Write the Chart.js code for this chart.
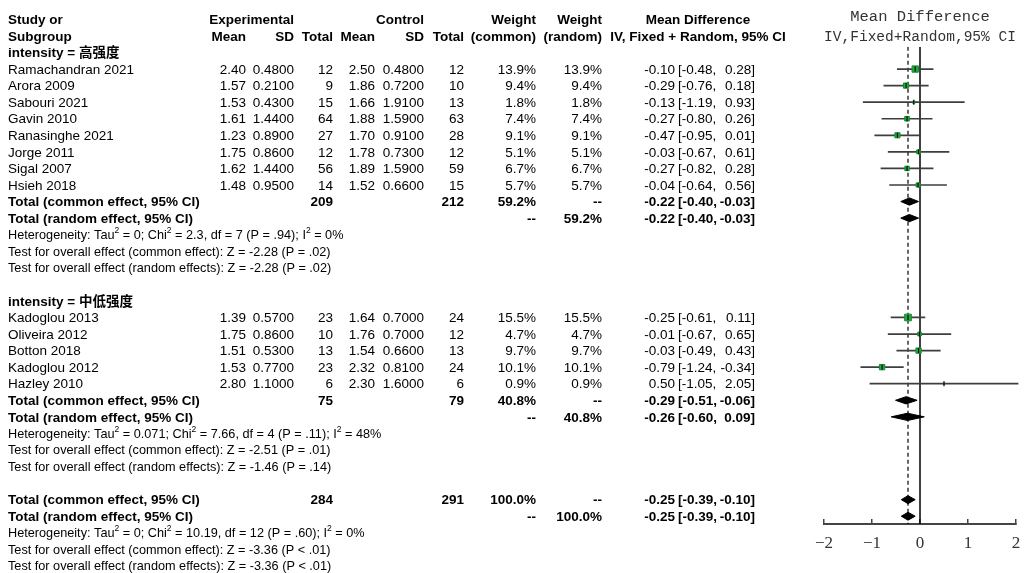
<!DOCTYPE html>
<html>
<head>
<meta charset="utf-8">
<script src="https://cdn.jsdelivr.net/npm/chart.js@4.4.1/dist/chart.umd.min.js"></script>
<style>
  html, body { margin: 0; padding: 0; background: #fff; }
  #wrap { width: 1025px; height: 573px; }
</style>
</head>
<body>
<div id="wrap"><canvas id="forest" width="1025" height="573"></canvas></div>
<script>
// ---- study level data ----
const studyNames = ['Ramachandran 2021', 'Arora 2009', 'Sabouri 2021', 'Gavin 2010', 'Ranasinghe 2021',
  'Jorge 2011', 'Sigal 2007', 'Hsieh 2018',
  'Kadoglou 2013', 'Oliveira 2012', 'Botton 2018', 'Kadoglou 2012', 'Hazley 2010'];
const studyRows = [0, 1, 2, 3, 4, 5, 6, 7, 15, 16, 17, 18, 19];
const expMean = [2.40, 1.57, 1.53, 1.61, 1.23, 1.75, 1.62, 1.48, 1.39, 1.75, 1.51, 1.53, 2.80];
const expSD = [0.48, 0.21, 0.43, 1.44, 0.89, 0.86, 1.44, 0.95, 0.57, 0.86, 0.53, 0.77, 1.10];
const expN = [12, 9, 15, 64, 27, 12, 56, 14, 23, 10, 13, 23, 6];
const ctrlMean = [2.50, 1.86, 1.66, 1.88, 1.70, 1.78, 1.89, 1.52, 1.64, 1.76, 1.54, 2.32, 2.30];
const ctrlSD = [0.48, 0.72, 1.91, 1.59, 0.91, 0.73, 1.59, 0.66, 0.70, 0.70, 0.66, 0.81, 1.60];
const ctrlN = [12, 10, 13, 63, 28, 12, 59, 15, 24, 12, 13, 24, 6];
const weightCommon = [13.9, 9.4, 1.8, 7.4, 9.1, 5.1, 6.7, 5.7, 15.5, 4.7, 9.7, 10.1, 0.9];
const weightRandom = [13.9, 9.4, 1.8, 7.4, 9.1, 5.1, 6.7, 5.7, 15.5, 4.7, 9.7, 10.1, 0.9];
const md = [-0.10, -0.29, -0.13, -0.27, -0.47, -0.03, -0.27, -0.04, -0.25, -0.01, -0.03, -0.79, 0.50];
const mdLow = [-0.48, -0.76, -1.19, -0.80, -0.95, -0.67, -0.82, -0.64, -0.61, -0.67, -0.49, -1.24, -1.05];
const mdHigh = [0.28, 0.18, 0.93, 0.26, 0.01, 0.61, 0.28, 0.56, 0.11, 0.65, 0.43, -0.34, 2.05];

// ---- pooled estimates (subgroup 1, subgroup 2, overall) ----
const pooledLabels = ['Total (common effect, 95% CI)', 'Total (random effect, 95% CI)',
  'Total (common effect, 95% CI)', 'Total (random effect, 95% CI)',
  'Total (common effect, 95% CI)', 'Total (random effect, 95% CI)'];
const pooledRows = [8, 9, 20, 21, 26, 27];
const pooledExpN = [209, null, 75, null, 284, null];
const pooledCtrlN = [212, null, 79, null, 291, null];
const pooledWCommon = [59.2, null, 40.8, null, 100.0, null];
const pooledWRandom = [null, 59.2, null, 40.8, null, 100.0];
const pooledMD = [-0.22, -0.22, -0.29, -0.26, -0.25, -0.25];
const pooledLow = [-0.40, -0.40, -0.51, -0.60, -0.39, -0.39];
const pooledHigh = [-0.03, -0.03, -0.06, 0.09, -0.10, -0.10];

// ---- subgroup headings and statistics ----
const subgroupLabels = ['intensity = 高强度', 'intensity = 中低强度'];
const subgroupRows = [-1, 14];
const hetRows = [10, 22, 28];
const tauSq = ['0', '0.071', '0'];
const chiSq = ['2.3', '7.66', '10.19'];
const hetDf = [7, 4, 12];
const hetP = ['.94', '.11', '.60'];
const iSq = ['0%', '48%', '0%'];
const zCommon = ['-2.28', '-2.51', '-3.36'];
const pCommon = ['= .02', '= .01', '< .01'];
const zRandom = ['-2.28', '-1.46', '-3.36'];
const pRandom = ['= .02', '= .14', '< .01'];

const xTicks = [-2, -1, 0, 1, 2];

// rows shown between plot top and x axis
const ROW_TOP = -1.35;
const ROW_BOTTOM = 27.47;

const FONT = "'Liberation Sans', 'Noto Sans CJK SC', Arial, sans-serif";
const COL = { name: 8, expMean: 246, expSD: 294, expN: 333, ctrlMean: 375, ctrlSD: 424, ctrlN: 464,
  wCommon: 536, wRandom: 602, md: 675, lo: 678, hi: 755, mdHead: 698 };

// ---- datasets ----
const datasets = [];

// study squares, sized by weight
datasets.push({
  data: studyRows.map((r, i) => ({ x: md[i], y: r })),
  pointStyle: 'rect',
  pointRadius: weightCommon.map(w => 1.2 * Math.sqrt(w)),
  backgroundColor: '#1fae3e',
  borderColor: '#168a30',
  borderWidth: 1,
  order: 2
});
// small tick at each point estimate
datasets.push({
  data: studyRows.map((r, i) => ({ x: md[i], y: r })),
  pointStyle: 'line',
  rotation: 90,
  pointRadius: 2.5,
  borderColor: '#111',
  borderWidth: 1.3,
  order: 1
});
// confidence intervals
studyRows.forEach((r, i) => {
  datasets.push({
    data: [{ x: mdLow[i], y: r }, { x: mdHigh[i], y: r }],
    showLine: true,
    pointRadius: 0,
    borderColor: '#3e3e3e',
    borderWidth: 1.7,
    clip: false,
    order: 4
  });
});
// pooled diamonds
pooledRows.forEach((r, i) => {
  const h = i >= 4 ? 0.24 : 0.22;
  datasets.push({
    data: [
      { x: pooledLow[i], y: r }, { x: pooledMD[i], y: r - h },
      { x: pooledHigh[i], y: r }, { x: pooledMD[i], y: r + h }, { x: pooledLow[i], y: r }
    ],
    showLine: true,
    fill: 'shape',
    tension: 0,
    pointRadius: 0,
    borderColor: '#000',
    backgroundColor: '#000',
    borderWidth: 1,
    order: 3
  });
});
// line of no effect and overall common estimate
datasets.push({
  data: [{ x: 0, y: ROW_TOP }, { x: 0, y: ROW_BOTTOM }],
  showLine: true, pointRadius: 0, borderColor: '#000', borderWidth: 1.5, order: 5
});
datasets.push({
  data: [{ x: pooledMD[4], y: ROW_TOP }, { x: pooledMD[4], y: ROW_BOTTOM }],
  showLine: true, pointRadius: 0, borderColor: '#000', borderWidth: 1.2, borderDash: [4, 3], order: 5
});

// ---- table text drawn beside the plot ----
const tablePlugin = {
  id: 'forestTable',
  afterDraw(chart) {
    const ctx = chart.ctx;
    const ys = chart.scales.y;
    const rowY = r => ys.getPixelForValue(r) + 1;
    const put = (text, x, row, align, bold, size) => {
      ctx.font = (bold ? 'bold ' : '') + size + 'px ' + FONT;
      ctx.textAlign = align;
      ctx.textBaseline = 'middle';
      ctx.fillText(text, x, rowY(row));
    };
    const statLine = (parts, row) => {
      let x = COL.name;
      ctx.textAlign = 'left';
      ctx.textBaseline = 'middle';
      parts.forEach(p => {
        const sup = p[1];
        ctx.font = (sup ? 8.5 : 12.7) + 'px ' + FONT;
        ctx.fillText(p[0], x, rowY(row) - (sup ? 5 : 0));
        x += ctx.measureText(p[0]).width;
      });
    };
    const mdText = (est, lo, hi, row, bold) => {
      put(est.toFixed(2), COL.md, row, 'right', bold, 13.5);
      put('[' + lo.toFixed(2) + ',', COL.lo, row, 'left', bold, 13.5);
      put(hi.toFixed(2) + ']', COL.hi, row, 'right', bold, 13.5);
    };

    ctx.save();
    ctx.fillStyle = '#000';

    // column headings
    put('Study or', COL.name, -3, 'left', true, 13.5);
    put('Subgroup', COL.name, -2, 'left', true, 13.5);
    put('Experimental', COL.expSD, -3, 'right', true, 13.5);
    put('Control', COL.ctrlSD, -3, 'right', true, 13.5);
    put('Weight', COL.wCommon, -3, 'right', true, 13.5);
    put('Weight', COL.wRandom, -3, 'right', true, 13.5);
    put('Mean Difference', COL.mdHead, -3, 'center', true, 13.5);
    put('Mean', COL.expMean, -2, 'right', true, 13.5);
    put('SD', COL.expSD, -2, 'right', true, 13.5);
    put('Total', COL.expN, -2, 'right', true, 13.5);
    put('Mean', COL.ctrlMean, -2, 'right', true, 13.5);
    put('SD', COL.ctrlSD, -2, 'right', true, 13.5);
    put('Total', COL.ctrlN, -2, 'right', true, 13.5);
    put('(common)', COL.wCommon, -2, 'right', true, 13.5);
    put('(random)', COL.wRandom, -2, 'right', true, 13.5);
    put('IV, Fixed + Random, 95% CI', COL.mdHead, -2, 'center', true, 13.5);

    subgroupLabels.forEach((s, i) => put(s, COL.name, subgroupRows[i], 'left', true, 13.5));

    // one line per study
    studyRows.forEach((r, i) => {
      put(studyNames[i], COL.name, r, 'left', false, 13.5);
      put(expMean[i].toFixed(2), COL.expMean, r, 'right', false, 13.5);
      put(expSD[i].toFixed(4), COL.expSD, r, 'right', false, 13.5);
      put(String(expN[i]), COL.expN, r, 'right', false, 13.5);
      put(ctrlMean[i].toFixed(2), COL.ctrlMean, r, 'right', false, 13.5);
      put(ctrlSD[i].toFixed(4), COL.ctrlSD, r, 'right', false, 13.5);
      put(String(ctrlN[i]), COL.ctrlN, r, 'right', false, 13.5);
      put(weightCommon[i].toFixed(1) + '%', COL.wCommon, r, 'right', false, 13.5);
      put(weightRandom[i].toFixed(1) + '%', COL.wRandom, r, 'right', false, 13.5);
      mdText(md[i], mdLow[i], mdHigh[i], r, false);
    });

    // pooled lines
    pooledRows.forEach((r, i) => {
      put(pooledLabels[i], COL.name, r, 'left', true, 13.5);
      if (pooledExpN[i] !== null) put(String(pooledExpN[i]), COL.expN, r, 'right', true, 13.5);
      if (pooledCtrlN[i] !== null) put(String(pooledCtrlN[i]), COL.ctrlN, r, 'right', true, 13.5);
      put(pooledWCommon[i] === null ? '--' : pooledWCommon[i].toFixed(1) + '%', COL.wCommon, r, 'right', true, 13.5);
      put(pooledWRandom[i] === null ? '--' : pooledWRandom[i].toFixed(1) + '%', COL.wRandom, r, 'right', true, 13.5);
      mdText(pooledMD[i], pooledLow[i], pooledHigh[i], r, true);
    });

    // heterogeneity and overall effect tests
    hetRows.forEach((r, i) => {
      statLine([
        ['Heterogeneity: Tau'], ['2', true], [' = ' + tauSq[i] + '; Chi'], ['2', true],
        [' = ' + chiSq[i] + ', df = ' + hetDf[i] + ' (P = ' + hetP[i] + '); I'], ['2', true],
        [' = ' + iSq[i]]
      ], r);
      statLine([['Test for overall effect (common effect): Z = ' + zCommon[i] + ' (P ' + pCommon[i] + ')']], r + 1);
      statLine([['Test for overall effect (random effects): Z = ' + zRandom[i] + ' (P ' + pRandom[i] + ')']], r + 2);
    });

    ctx.restore();
  }
};

new Chart(document.getElementById('forest'), {
  type: 'scatter',
  data: { datasets: datasets },
  options: {
    responsive: false,
    animation: false,
    devicePixelRatio: 1,
    layout: { autoPadding: false, padding: { left: 824, right: 9, top: 6.7, bottom: 0 } },
    plugins: {
      legend: { display: false },
      tooltip: { enabled: false },
      title: {
        display: true,
        text: ['Mean Difference', 'IV,Fixed+Random,95% CI'],
        color: '#333',
        font: { family: "'Liberation Mono', monospace", size: 15.5, weight: 'normal', lineHeight: 1.29 },
        padding: { top: 0, bottom: 0 }
      }
    },
    scales: {
      x: {
        type: 'linear',
        min: -2,
        max: 2,
        afterBuildTicks: scale => { scale.ticks = xTicks.map(v => ({ value: v })); },
        afterFit: scale => {
          scale.height = 49;
          // end labels may hang over the edges; keep the axis full width
          scale.paddingLeft = 0;
          scale.paddingRight = 0;
        },
        grid: { drawOnChartArea: false, drawTicks: true, tickLength: -5, color: '#444', lineWidth: 1.5 },
        border: { display: true, color: '#444', width: 2 },
        ticks: {
          padding: 14,
          color: '#333',
          font: { family: "'Liberation Serif', serif", size: 17 },
          callback: v => (v < 0 ? '\u2212' + Math.abs(v) : String(v))
        }
      },
      y: {
        type: 'linear',
        reverse: true,
        min: ROW_TOP,
        max: ROW_BOTTOM,
        display: false
      }
    }
  },
  plugins: [tablePlugin]
});
</script>
</body>
</html>
